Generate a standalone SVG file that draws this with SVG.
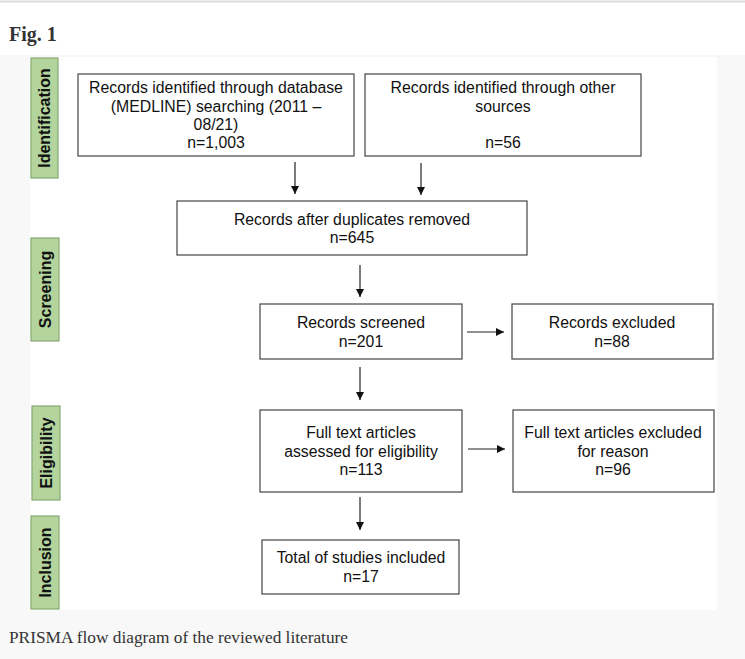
<svg xmlns="http://www.w3.org/2000/svg" width="745" height="659" viewBox="0 0 745 659">
<defs>
<style>
.box{fill:#fff;stroke:#444;stroke-width:1.2}
.lane{fill:#b3d49d;stroke:#86a872;stroke-width:1.2}
.t{font-family:"Liberation Sans",Arial,sans-serif;font-size:15.8px;fill:#111;text-anchor:middle}
.lt{font-family:"Liberation Sans",Arial,sans-serif;font-size:16px;font-weight:bold;fill:#111;text-anchor:middle}
.c{stroke:#222;stroke-width:1.2;fill:none}
</style>
<marker id="ah" viewBox="0 0 10 10" refX="10" refY="5" markerWidth="8" markerHeight="8" markerUnits="userSpaceOnUse" orient="auto">
<path d="M0,0 L10,5 L0,10 z" fill="#111"/>
</marker>
</defs>
<rect width="745" height="659" fill="#fff"/>
<rect x="0" y="55" width="745" height="604" fill="#f8f8f8"/>
<line x1="0" y1="1.5" x2="745" y2="1.5" stroke="#dcdcdc" stroke-width="2"/>
<text x="9" y="41" font-family="'Liberation Serif',Georgia,serif" font-size="20" font-weight="bold" fill="#333">Fig. 1</text>
<rect x="30" y="57" width="687" height="553" fill="#fff"/>

<g id="lane-identification"><rect class="lane" x="31" y="58" width="27" height="120"/><text class="lt" transform="translate(50,118) rotate(-90)">Identification</text></g>
<g id="lane-screening"><rect class="lane" x="31" y="238" width="28" height="103"/><text class="lt" transform="translate(51,289.5) rotate(-90)">Screening</text></g>
<g id="lane-eligibility"><rect class="lane" x="32" y="406" width="28" height="94"/><text class="lt" transform="translate(52,453) rotate(-90)">Eligibility</text></g>
<g id="lane-inclusion"><rect class="lane" x="31" y="516" width="28" height="93"/><text class="lt" transform="translate(51,562.5) rotate(-90)">Inclusion</text></g>

<g id="n-database"><rect class="box" x="78" y="74" width="276" height="82"/>
<text class="t" x="216" y="93">Records identified through database</text>
<text class="t" x="216" y="112">(MEDLINE) searching (2011 –</text>
<text class="t" x="216" y="130">08/21)</text>
<text class="t" x="216" y="148">n=1,003</text></g>

<g id="n-other"><rect class="box" x="365" y="74" width="276" height="82"/>
<text class="t" x="503" y="93">Records identified through other</text>
<text class="t" x="503" y="112">sources</text>
<text class="t" x="503" y="148">n=56</text></g>

<g id="n-dup"><rect class="box" x="177" y="201" width="350" height="54"/>
<text class="t" x="352" y="225">Records after duplicates removed</text>
<text class="t" x="352" y="243">n=645</text></g>

<g id="n-screened"><rect class="box" x="260" y="304" width="202" height="55"/>
<text class="t" x="361" y="328">Records screened</text>
<text class="t" x="361" y="347">n=201</text></g>

<g id="n-excluded"><rect class="box" x="512" y="304" width="201" height="55"/>
<text class="t" x="612" y="328">Records excluded</text>
<text class="t" x="612" y="347">n=88</text></g>

<g id="n-fulltext"><rect class="box" x="260" y="410" width="202" height="82"/>
<text class="t" x="361" y="438">Full text articles</text>
<text class="t" x="361" y="457">assessed for eligibility</text>
<text class="t" x="361" y="475">n=113</text></g>

<g id="n-ftexcluded"><rect class="box" x="513" y="410" width="201" height="82"/>
<text class="t" x="613" y="438">Full text articles excluded</text>
<text class="t" x="613" y="457">for reason</text>
<text class="t" x="613" y="475">n=96</text></g>

<g id="n-included"><rect class="box" x="262" y="540" width="197" height="54"/>
<text class="t" x="361" y="563">Total of studies included</text>
<text class="t" x="361" y="582">n=17</text></g>

<g id="connectors">
<line class="c" x1="295" y1="162" x2="295" y2="194" marker-end="url(#ah)"/>
<line class="c" x1="421" y1="163" x2="421" y2="195" marker-end="url(#ah)"/>
<line class="c" x1="360" y1="265" x2="360" y2="297" marker-end="url(#ah)"/>
<line class="c" x1="360" y1="367" x2="360" y2="400" marker-end="url(#ah)"/>
<line class="c" x1="360" y1="497" x2="360" y2="530" marker-end="url(#ah)"/>
<line class="c" x1="467" y1="332" x2="504" y2="332" marker-end="url(#ah)"/>
<line class="c" x1="468" y1="449" x2="505" y2="449" marker-end="url(#ah)"/>
</g>

<text x="9" y="643" font-family="'Liberation Serif',Georgia,serif" font-size="16" fill="#333" textLength="339" lengthAdjust="spacingAndGlyphs">PRISMA flow diagram of the reviewed literature</text>
</svg>
